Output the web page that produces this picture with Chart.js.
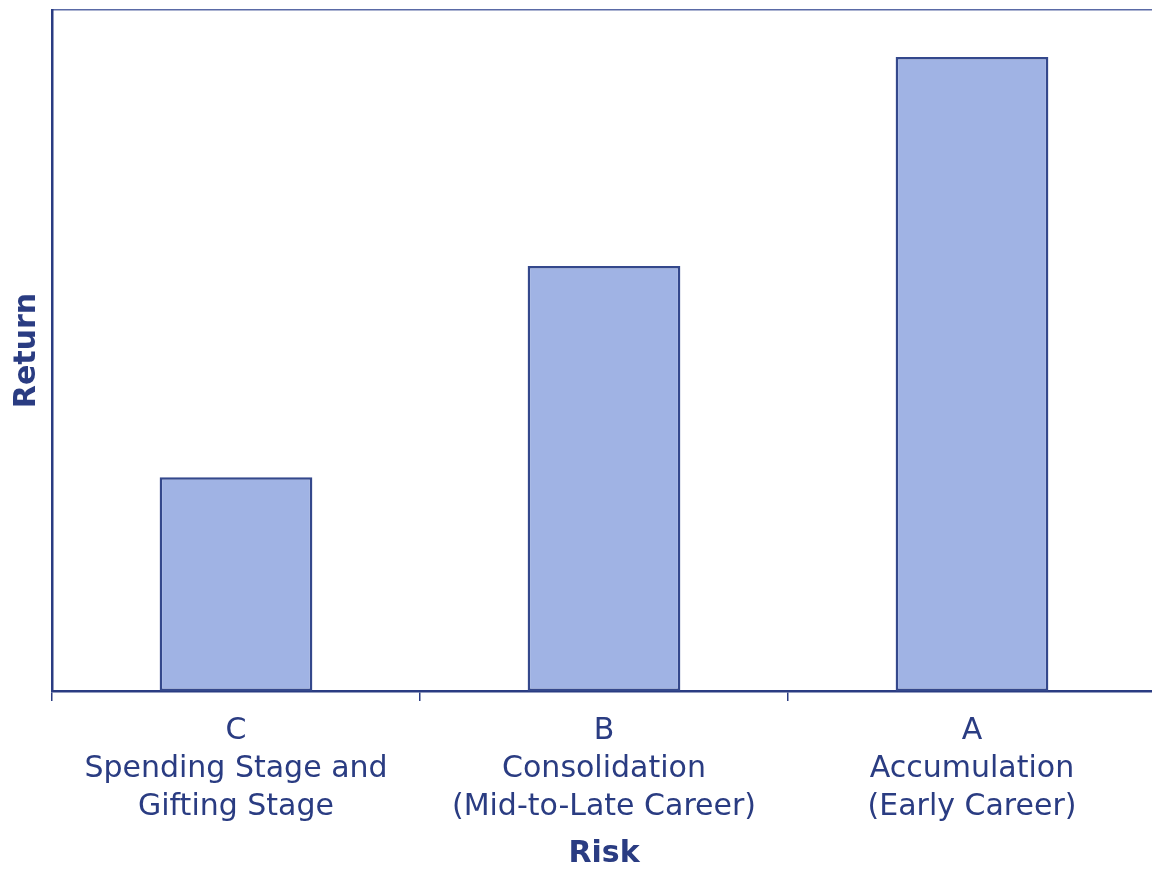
<!DOCTYPE html>
<html>
<head>
<meta charset="utf-8">
<script src="https://cdn.jsdelivr.net/npm/chart.js@4.4.1/dist/chart.umd.min.js"></script>
<style>
  html, body { margin: 0; padding: 0; background: #ffffff; overflow: hidden; }
  #wrap { width: 1152px; height: 872px; overflow: hidden; }
</style>
</head>
<body>
<div id="wrap"><canvas id="c" width="1156" height="872"></canvas></div>
<script>
// Life-cycle stages: risk (x) versus expected return (y)
const stageLabels = [
  ["C", "Spending Stage and", "Gifting Stage"],
  ["B", "Consolidation", "(Mid-to-Late Career)"],
  ["A", "Accumulation", "(Early Career)"]
];
const returnValues = [31.4, 62.4, 93.1];
const returnMax = 100;

const navy = '#2a3c82';
const fontFamily = '"DejaVu Sans", "Open Sans", sans-serif';

new Chart(document.getElementById('c'), {
  type: 'bar',
  data: {
    labels: stageLabels,
    datasets: [{
      data: returnValues,
      backgroundColor: '#a0b3e4',
      borderColor: '#34488c',
      borderWidth: 2.5,
      borderSkipped: false,
      categoryPercentage: 1,
      barPercentage: 0.415
    }]
  },
  options: {
    responsive: false,
    animation: false,
    layout: { padding: { top: 10, right: 0, left: 0, bottom: 0 } },
    plugins: { legend: { display: false }, tooltip: { enabled: false } },
    scales: {
      x: {
        type: 'category',
        position: 'bottom',
        offset: true,
        afterFit: s => { s.height = 181; },
        grid: {
          display: true,
          offset: true,
          drawOnChartArea: false,
          drawTicks: true,
          tickLength: 10,
          color: navy,
          lineWidth: 1.5
        },
        border: { display: true, color: navy, width: 2.5 },
        ticks: {
          color: navy,
          padding: 11,
          maxRotation: 0,
          autoSkip: false,
          font: { family: fontFamily, size: 30, lineHeight: 1.27 }
        },
        title: {
          display: true,
          text: 'Risk',
          color: navy,
          padding: 0,
          font: { family: fontFamily, size: 30, weight: 'bold' }
        }
      },
      xTop: {
        type: 'category',
        position: 'top',
        labels: stageLabels,
        afterFit: s => { s.height = 0; },
        grid: { display: false },
        ticks: { display: false },
        border: { display: true, color: '#5a6aa6', width: 1.5 }
      },
      y: {
        min: 0,
        max: returnMax,
        afterFit: s => { s.width = 52; },
        grid: { display: false },
        ticks: { display: false },
        border: { display: true, color: navy, width: 2.5 },
        title: {
          display: true,
          text: 'Return',
          color: navy,
          padding: { top: 9, bottom: 0 },
          font: { family: fontFamily, size: 30, weight: 'bold' }
        }
      }
    }
  }
});
</script>
</body>
</html>
